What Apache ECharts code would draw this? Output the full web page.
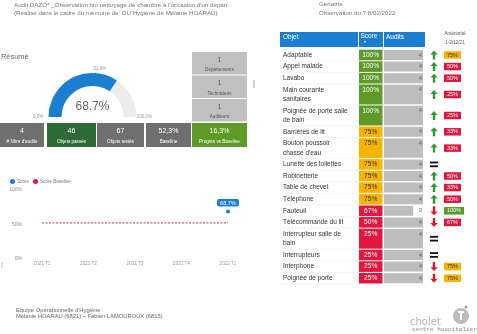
<!DOCTYPE html>
<html>
<head>
<meta charset="utf-8">
<script src="https://cdn.jsdelivr.net/npm/echarts@6/dist/echarts.min.js"></script>
<style>
  html, body { margin: 0; padding: 0; background: #fff; }
  #chart { width: 477px; height: 334px; }
</style>
</head>
<body>
<div id="chart"></div>
<script>
// ---- Summary figures ----
const scoreValue = 68.7;
const baselineValue = 52.3;
const teamLabels = ['Départements', 'Techniciens', 'Auditeurs'];
const teamValues = [1, 1, 1];
const statLabels = ["# Nbre d'audits", 'Objets passés', 'Objets testés', 'Baseline', 'Progrès vs Baseline'];
const statValues = ['4', '46', '67', '52,3%', '16,3%'];

// ---- Quarterly trend ----
const quarters = ['2021 T1', '2021 T2', '2021 T3', '2021 T4', '2022 T1'];
const scoreByQuarter = [null, null, null, null, 68.7];
const baselineByQuarter = [52.3, 52.3, 52.3, 52.3, 52.3];

// ---- Per-object results ----
const objects = [
  'Adaptable', 'Appel malade', 'Lavabo', 'Main courante sanitaires',
  'Poignée de porte salle de bain', 'Barrières de lit', "Bouton poussoir chasse d'eau",
  'Lunette des toilettes', 'Robinetterie', 'Table de chevet', 'Téléphone', 'Fauteuil',
  'Télécommande du lit', 'Interrupteur salle de bain', 'Interrupteurs', 'Interphone',
  'Poignée de porte'
];
const objectScores = [100, 100, 100, 100, 100, 75, 75, 75, 75, 75, 75, 67, 50, 25, 25, 25, 25];
const objectAudits = [4, 4, 4, 4, 4, 4, 4, 4, 4, 4, 4, 3, 4, 4, 4, 4, 4];
const trends = ['up', 'up', 'up', 'up', 'up', 'up', 'up', 'eq', 'up', 'up', 'up', 'down', 'down', 'eq', 'eq', 'down', 'down'];
const previousScores = [75, 50, 50, 25, 25, 33, 33, null, 50, 33, 50, 100, 67, null, null, 75, 75];
const auditMax = 4;

// ---- Styling ----
const FONT = '"Liberation Sans", Arial, sans-serif';
const BLUE = '#1a7fd2';
const GREEN = '#5d9a27';
const YELLOW = '#f6b400';
const RED = '#e3173e';
const statFills = ['#6f6f6f', '#2e6a37', '#6f6f6f', '#6f6f6f', '#5e9a27'];
const statX = [[0, 44], [47, 96], [97, 144], [146, 191], [192, 247]];

const pct = v => v.toFixed(1).replace('.', ',') + '%';
const levelColor = v => v >= 100 ? GREEN : (v >= 75 ? YELLOW : RED);
const levelText = v => v >= 75 && v < 100 ? '#333' : '#fff';

// Wrap object names to the width of the first column
const OBJ_FONT_SIZE = 6.5;
const measureCtx = document.createElement('canvas').getContext('2d');
function wrapText(text, maxWidth) {
  measureCtx.font = OBJ_FONT_SIZE + 'px "Liberation Sans"';
  const words = text.split(' ');
  const lines = [];
  let line = '';
  words.forEach(w => {
    const test = line ? line + ' ' + w : w;
    if (line && measureCtx.measureText(test).width > maxWidth) { lines.push(line); line = w; }
    else line = test;
  });
  if (line) lines.push(line);
  return lines;
}
const wrapped = objects.map(n => wrapText(n, 67));

// Row spans in "line" units on the table's vertical axis
const ROW_PAD = 0.234;
const rowStart = [], rowEnd = [];
let acc = 0;
wrapped.forEach(lines => { rowStart.push(acc); acc += lines.length + ROW_PAD; rowEnd.push(acc); });
const totalUnits = acc;
const tableData = objects.map((n, i) => [objectAudits[i], rowStart[i], rowEnd[i]]);

// ---- Static panels ----
const graphic = [];
function text(x, y, str, size, fill, extra) {
  graphic.push({ type: 'text', x, y, silent: true,
    style: Object.assign({ text: str, fontFamily: FONT, fontSize: size, fill, verticalAlign: 'middle' }, extra || {}) });
}
function rect(x, y, w, h, fill) {
  graphic.push({ type: 'rect', silent: true, shape: { x, y, width: w, height: h }, style: { fill } });
}

text(14, 5.3, "Audit DAZO* _Observation bio nettoyage de chambre à l'occasion d'un départ", 6.2, '#777');
text(14, 13.3, '(Réalisé dans le cadre du mémoire de  DU Hygiène de Mélanie HOARAU)', 6.2, '#777');
text(319, 4.7, 'Gériatrie', 6.2, '#777');
text(319, 13.3, 'Observation du 7 8/02/2022', 6.2, '#777');
text(1, 57, 'Résumé', 7.4, '#666');

teamLabels.forEach((lab, i) => {
  const y0 = 52 + i * 23.5;
  rect(192, y0, 55, 22.5, '#c0c0c0');
  text(219.5, y0 + 8, String(teamValues[i]), 6.5, '#555', { align: 'center' });
  text(219.5, y0 + 18, lab, 4.6, '#555', { align: 'center' });
});

statLabels.forEach((lab, i) => {
  const [x0, x1] = statX[i];
  rect(x0, 123, x1 - x0, 24, statFills[i]);
  text((x0 + x1) / 2, 131, statValues[i], 7, '#fff', { align: 'center' });
  text((x0 + x1) / 2, 141.5, lab, 4.6, '#fff', { align: 'center' });
});

// Table header
rect(280, 32, 78, 15, BLUE);
rect(359, 32, 24, 15, BLUE);
rect(384, 32, 41, 15, BLUE);
text(283, 37, 'Objet', 6.5, '#fff');
text(360.5, 36.5, 'Score', 6.5, '#fff');
text(365, 42, '▼', 3.5, '#fff', { align: 'center' });
text(386, 37, 'Audits', 6.5, '#fff');
text(455, 33.5, 'Antériorité', 4.6, '#555', { align: 'center' });
text(455, 43, '1-2/12/21', 4.6, '#555', { align: 'center' });

// Footer
text(16, 310, "Equipe Opérationnelle d'Hygiène", 5.8, '#666');
text(16, 316.5, 'Mélanie HOARAU (6821) – Fabien LAMOUROUX (6815)', 5.8, '#666');

// Hospital logo
text(410, 322, 'cholet', 10, '#b3b3b3', { fontFamily: '"DejaVu Sans", sans-serif' });
text(412, 329.5, 'centre hospitalier', 6, '#888', { fontFamily: '"Liberation Mono", monospace' });
graphic.push({ type: 'circle', silent: true, shape: { cx: 461, cy: 316, r: 8 }, style: { fill: '#bdbdbd' } });
rect(458, 311, 6, 2, '#fff');
rect(460, 311, 2, 9, '#fff');
graphic.push({ type: 'circle', silent: true, shape: { cx: 466, cy: 307, r: 1.5 }, style: { fill: '#999' } });

// small separators
graphic.push({ type: 'line', silent: true, shape: { x1: 254, y1: 80, x2: 254, y2: 88 }, style: { stroke: '#888', lineWidth: 0.8 } });
graphic.push({ type: 'line', silent: true, shape: { x1: 2, y1: 262, x2: 2, y2: 268 }, style: { stroke: '#aaa', lineWidth: 0.8 } });

// ---- Table rows ----
function arrowShape(kind, cx, cy) {
  if (kind === 'eq') {
    return [
      { type: 'rect', shape: { x: cx - 4, y: cy - 2.8, width: 8, height: 1.8 }, style: { fill: '#111' } },
      { type: 'rect', shape: { x: cx - 4, y: cy + 1.0, width: 8, height: 1.8 }, style: { fill: '#111' } }
    ];
  }
  const s = kind === 'up' ? -1 : 1;
  return [{
    type: 'polygon',
    shape: { points: [
      [cx, cy + s * 4.5], [cx + 3.6, cy + s * 0.6], [cx + 1.2, cy + s * 0.6], [cx + 1.2, cy - s * 4.5],
      [cx - 1.2, cy - s * 4.5], [cx - 1.2, cy + s * 0.6], [cx - 3.6, cy + s * 0.6]
    ] },
    style: { fill: kind === 'up' ? '#2f9a35' : '#d61a2c' }
  }];
}

function renderRow(params, api) {
  const i = params.dataIndex;
  const cs = params.coordSys;
  const p0 = api.coord([0, api.value(1)]);
  const top = p0[1];
  const bottom = api.coord([0, api.value(2)])[1];
  const xBar = p0[0];
  const xEnd = api.coord([api.value(0), api.value(1)])[0];
  const xFull = api.coord([auditMax, api.value(1)])[0];
  const h = bottom - top;
  const lineH = h / (wrapped[i].length + ROW_PAD);
  const padTop = lineH * ROW_PAD / 2;
  const firstMid = top + padTop + lineH / 2;
  const mid = top + h / 2;
  const sc = objectScores[i];
  const children = [
    { type: 'line', shape: { x1: cs.x - 104, y1: bottom, x2: cs.x - 26, y2: bottom }, style: { stroke: '#ececec', lineWidth: 0.6 } },
    { type: 'text', style: { x: cs.x - 101, y: top + padTop, text: wrapped[i].join('\n'), fontFamily: FONT,
        fontSize: OBJ_FONT_SIZE, lineHeight: lineH, fill: '#333', verticalAlign: 'top' } },
    { type: 'rect', shape: { x: cs.x - 25, y: top + 0.5, width: 23.5, height: h - 1 }, style: { fill: levelColor(sc) } },
    { type: 'text', style: { x: cs.x - 13.3, y: firstMid, text: sc + '%', fontFamily: FONT, fontSize: 6.6,
        fill: levelText(sc), align: 'center', verticalAlign: 'middle' } },
    { type: 'rect', shape: { x: xBar, y: top + 0.8, width: xEnd - xBar, height: h - 1.6 }, style: { fill: '#bdbdbd' } },
    { type: 'text', style: { x: xFull - 1, y: firstMid, text: String(api.value(0)), fontFamily: FONT, fontSize: 6,
        fill: '#666', align: 'right', verticalAlign: 'middle' } }
  ].concat(arrowShape(trends[i], cs.x + 50, mid));
  const prev = previousScores[i];
  if (prev != null) {
    children.push({ type: 'text', style: { x: cs.x + 60, y: mid, text: prev + '%', fontFamily: FONT, fontSize: 5.5,
      fill: levelText(prev), backgroundColor: levelColor(prev), padding: [1, 3, 0.5, 3], verticalAlign: 'middle' } });
  }
  return { type: 'group', children };
}

// ---- Chart ----
const chart = echarts.init(document.getElementById('chart'), null, { renderer: 'canvas' });
chart.setOption({
  animation: false,
  backgroundColor: '#fff',
  textStyle: { fontFamily: FONT },
  graphic,
  legend: {
    left: 5, top: 174, itemWidth: 5, itemHeight: 5, itemGap: 4, icon: 'circle',
    textStyle: { fontSize: 4.6, color: '#777', padding: [0, 0, 0, -3] },
    data: ['Score', 'Score Baseline']
  },
  grid: [
    { left: 42, top: 190, width: 186, height: 69 },
    { left: 384, top: 49.2, width: 39, height: 234.8 }
  ],
  xAxis: [
    { gridIndex: 0, type: 'category', data: quarters, boundaryGap: false,
      axisLine: { show: false }, axisTick: { show: false },
      axisLabel: { fontSize: 4.6, color: '#999', margin: 2 } },
    { gridIndex: 1, type: 'value', min: 0, max: auditMax, show: false }
  ],
  yAxis: [
    { gridIndex: 0, type: 'value', min: 0, max: 100, interval: 50,
      axisLine: { show: false }, axisTick: { show: false }, splitLine: { show: false },
      axisLabel: { fontSize: 5, color: '#888', margin: 20, formatter: '{value}%' } },
    { gridIndex: 1, type: 'value', min: 0, max: totalUnits, inverse: true, show: false }
  ],
  series: [
    {
      type: 'gauge', center: [92.5, 117], radius: 44, startAngle: 180, endAngle: 0,
      min: 0, max: 100, splitNumber: 1,
      progress: { show: true, width: 13, itemStyle: { color: BLUE } },
      axisLine: { lineStyle: { width: 13, color: [[1, '#ececec']] } },
      pointer: { show: false }, anchor: { show: false },
      axisTick: { show: false },
      splitLine: { show: false, length: 0, distance: 0 },
      axisLabel: { distance: -15.5, fontSize: 4.5, color: '#999', padding: [0, 0, 4, 0], formatter: v => pct(v) },
      title: { show: false },
      detail: { offsetCenter: [0, '-23%'], fontSize: 12, color: '#666', fontWeight: 'normal',
        fontFamily: FONT, formatter: v => v.toFixed(1) + '%' },
      data: [{ value: scoreValue }]
    },
    {
      type: 'gauge', center: [92.5, 117], radius: 44, startAngle: 180, endAngle: 0,
      min: 0, max: 100,
      axisLine: { show: false }, progress: { show: false },
      axisTick: { show: false }, splitLine: { show: false }, axisLabel: { show: false },
      anchor: { show: false },
      pointer: { icon: 'rect', length: '30%', width: 1.2, offsetCenter: [0, '-70.5%'], itemStyle: { color: '#8a2d63' } },
      title: { show: false },
      detail: { offsetCenter: ['17%', '-109%'], fontSize: 4.5, color: '#999', fontWeight: 'normal',
        fontFamily: FONT, formatter: v => pct(v) },
      data: [{ value: baselineValue }]
    },
    {
      name: 'Score', type: 'line', xAxisIndex: 0, yAxisIndex: 0,
      data: scoreByQuarter, symbol: 'circle', symbolSize: 4, showSymbol: true,
      itemStyle: { color: BLUE }, lineStyle: { color: BLUE, width: 1 },
      label: { show: true, position: 'top', distance: 3, formatter: p => pct(p.value),
        backgroundColor: BLUE, color: '#fff', fontSize: 5.6, padding: [1, 3, 0.5, 3], borderRadius: 2 }
    },
    {
      name: 'Score Baseline', type: 'line', xAxisIndex: 0, yAxisIndex: 0,
      data: baselineByQuarter, symbol: 'none',
      itemStyle: { color: '#e0174a' },
      lineStyle: { color: '#9e1a3d', width: 0.9, type: [2, 1.5] }
    },
    {
      type: 'custom', xAxisIndex: 1, yAxisIndex: 1, clip: false,
      data: tableData, encode: { x: 0, y: [1, 2] },
      renderItem: renderRow
    }
  ]
});
</script>
</body>
</html>
